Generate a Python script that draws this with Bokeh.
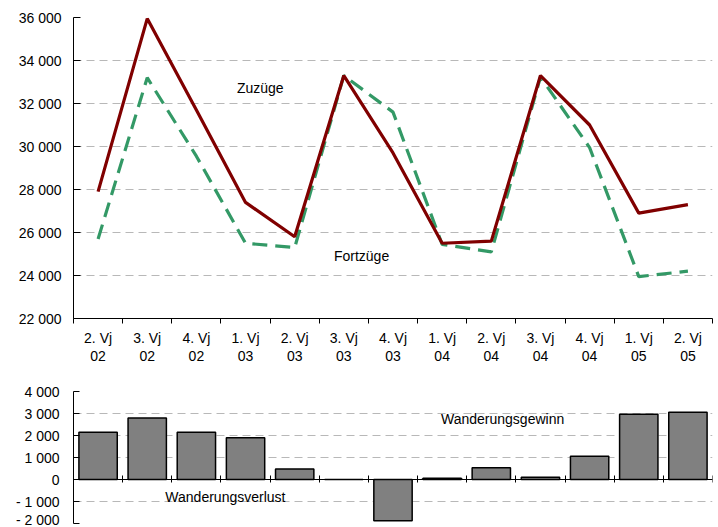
from bokeh.plotting import figure
from bokeh.models import FixedTicker, Range1d, Label
from bokeh.layouts import column
from bokeh.embed import file_html
from bokeh.resources import INLINE

categories = ["2. Vj\n02", "3. Vj\n02", "4. Vj\n02", "1. Vj\n03", "2. Vj\n03", "3. Vj\n03",
              "4. Vj\n03", "1. Vj\n04", "2. Vj\n04", "3. Vj\n04", "4. Vj\n04", "1. Vj\n05", "2. Vj\n05"]
zuzuege = [27900, 35950, 31700, 27400, 25800, 33300, 29700, 25500, 25600, 33300, 31000, 26900, 27300]
fortzuege = [25700, 33200, 29550, 25500, 25300, 33300, 31600, 25450, 25100, 33230, 29950, 23950, 24200]
saldo = [2150, 2800, 2150, 1900, 480, 0, -1870, 60, 530, 100, 1060, 2970, 3060]
top_ticks = [22000, 24000, 26000, 28000, 30000, 32000, 34000, 36000]
bottom_ticks = [-2000, -1000, 0, 1000, 2000, 3000, 4000]

FONT = "Liberation Sans"
FS = "14px"

def fmt(v):
    s = f"{abs(v):,}".replace(",", " ")
    return ("- " if v < 0 else "") + s

n = len(categories)
xs = list(range(1, n + 1))
bounds = [i + 0.5 for i in range(0, n + 1)]

# ---------- top chart ----------
p1 = figure(width=718, height=375, output_backend="svg", toolbar_location=None,
            x_range=Range1d(0.5, n + 0.5), y_range=Range1d(top_ticks[0], top_ticks[-1]),
            min_border_left=73, min_border_right=6, min_border_top=17, min_border_bottom=57)
p1.outline_line_color = None
p1.background_fill_color = "white"
p1.xgrid.grid_line_color = None
p1.ygrid.grid_line_color = "#b8b8b8"
p1.ygrid.grid_line_dash = "8 5"
p1.ygrid.ticker = FixedTicker(ticks=top_ticks)

p1.xaxis.ticker = FixedTicker(ticks=xs, minor_ticks=bounds)
p1.xaxis.major_label_overrides = {x: c for x, c in zip(xs, categories)}
p1.xaxis.major_tick_in = 0
p1.xaxis.major_tick_out = 0
p1.xaxis.minor_tick_in = 0
p1.xaxis.minor_tick_out = 5
p1.xaxis.minor_tick_line_color = "black"
p1.xaxis.axis_line_color = "black"
p1.xaxis.major_label_standoff = 6
p1.xaxis.major_label_text_font = FONT
p1.xaxis.major_label_text_font_size = FS
p1.xaxis.major_label_text_color = "black"
p1.xaxis.major_label_text_line_height = 1.15

p1.yaxis.ticker = FixedTicker(ticks=top_ticks)
p1.yaxis.major_label_overrides = {t: fmt(t) for t in top_ticks}
p1.yaxis.major_tick_in = 7
p1.yaxis.major_tick_out = 0
p1.yaxis.minor_tick_line_color = None
p1.yaxis.axis_line_color = "black"
p1.yaxis.major_tick_line_color = "black"
p1.yaxis.major_label_standoff = 12
p1.yaxis.major_label_text_font = FONT
p1.yaxis.major_label_text_font_size = FS
p1.yaxis.major_label_text_color = "black"

p1.line(xs, fortzuege, line_color="#339966", line_width=3.2, line_dash="15 8")
p1.line(xs, zuzuege, line_color="#800000", line_width=3.2)

p1.add_layout(Label(x=4.3, y=32700, text="Zuzüge", text_align="center", text_baseline="middle",
                    text_font=FONT, text_font_size=FS, text_color="black"))
p1.add_layout(Label(x=6.36, y=24900, text="Fortzüge", text_align="center", text_baseline="middle",
                    text_font=FONT, text_font_size=FS, text_color="black"))

# ---------- bottom chart ----------
p2 = figure(width=718, height=152, output_backend="svg", toolbar_location=None,
            x_range=Range1d(0.5, n + 0.5), y_range=Range1d(bottom_ticks[0], bottom_ticks[-1]),
            min_border_left=73, min_border_right=6, min_border_top=16, min_border_bottom=4)
p2.outline_line_color = None
p2.xgrid.grid_line_color = None
p2.ygrid.grid_line_color = "#b8b8b8"
p2.ygrid.grid_line_dash = "8 5"
p2.ygrid.ticker = FixedTicker(ticks=bottom_ticks)

p2.xaxis.fixed_location = 0
p2.xaxis.ticker = FixedTicker(ticks=[], minor_ticks=bounds)
p2.xaxis.major_tick_in = 0
p2.xaxis.major_tick_out = 0
p2.xaxis.minor_tick_in = 4
p2.xaxis.minor_tick_out = 3
p2.xaxis.minor_tick_line_color = "black"
p2.xaxis.axis_line_color = "black"

p2.yaxis.ticker = FixedTicker(ticks=bottom_ticks)
p2.yaxis.major_label_overrides = {t: fmt(t) for t in bottom_ticks}
p2.yaxis.major_tick_in = 6
p2.yaxis.major_tick_out = 0
p2.yaxis.minor_tick_line_color = None
p2.yaxis.axis_line_color = "black"
p2.yaxis.major_tick_line_color = "black"
p2.yaxis.major_label_standoff = 14
p2.yaxis.major_label_text_font = FONT
p2.yaxis.major_label_text_font_size = FS
p2.yaxis.major_label_text_color = "black"

p2.vbar(x=xs, top=saldo, bottom=0, width=0.78, fill_color="#808080", line_color="black", line_width=1.5)

p2.add_layout(Label(x=9.23, y=2770, text="Wanderungsgewinn", text_align="center", text_baseline="middle",
                    text_font=FONT, text_font_size=FS, text_color="black"))
p2.add_layout(Label(x=3.59, y=-800, text="Wanderungsverlust", text_align="center", text_baseline="middle",
                    text_font=FONT, text_font_size=FS, text_color="black"))

layout = column(p1, p2)
open("out.html", "w").write(file_html(layout, INLINE))
